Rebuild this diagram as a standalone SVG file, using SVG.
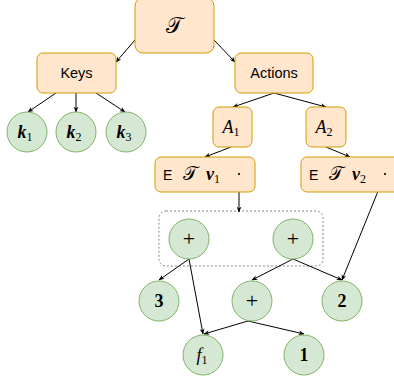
<svg xmlns="http://www.w3.org/2000/svg" width="394" height="380" viewBox="0 0 394 380">
<style>
.box{fill:#ffe6cc;stroke:#d79b00;stroke-width:1}
.circ{fill:#d5e8d4;stroke:#82b366;stroke-width:1}
.sans{font-family:"Liberation Sans",Arial,sans-serif;fill:#000}
.math{font-family:"Liberation Serif","Times New Roman",serif;fill:#000}
.cal{font-family:"DejaVu Serif","Noto Sans","DejaVu Sans",serif;fill:#000}
.edge{fill:none;stroke:#000;stroke-width:1;marker-end:url(#ah)}
</style>
<defs>
<marker id="ah" viewBox="0 0 10 10" refX="9" refY="5" markerWidth="6" markerHeight="6" orient="auto" markerUnits="userSpaceOnUse">
<path d="M0,1 L10,5 L0,9 L3,5 Z" fill="#000"/>
</marker>
</defs>
<rect width="394" height="380" fill="#fff"/>
<g id="group-box">
<rect x="159" y="211" width="164" height="55" rx="7" fill="none" stroke="#888" stroke-width="1" stroke-dasharray="2,2"/>
</g>
<g id="edges">
<line class="edge" x1="135" y1="40" x2="116" y2="62"/>
<line class="edge" x1="214" y1="40" x2="235" y2="62"/>
<line class="edge" x1="56" y1="93" x2="28" y2="112"/>
<line class="edge" x1="76" y1="93" x2="76" y2="112"/>
<line class="edge" x1="96" y1="93" x2="125" y2="112"/>
<line class="edge" x1="274" y1="93" x2="233" y2="107"/>
<line class="edge" x1="274" y1="93" x2="326" y2="107"/>
<line class="edge" x1="231" y1="147" x2="205" y2="157"/>
<line class="edge" x1="326" y1="147" x2="350" y2="157"/>
<line class="edge" x1="239" y1="174" x2="239" y2="212"/>
<line class="edge" x1="385" y1="174" x2="342" y2="280"/>
<line class="edge" x1="189" y1="259" x2="159" y2="280"/>
<line class="edge" x1="189" y1="259" x2="203" y2="334"/>
<line class="edge" x1="293" y1="259" x2="252" y2="280"/>
<line class="edge" x1="293" y1="259" x2="342" y2="280"/>
<line class="edge" x1="248" y1="321" x2="204" y2="334"/>
<line class="edge" x1="248" y1="321" x2="304" y2="334"/>
</g>
<g id="T">
<rect class="box" x="135" y="-2" width="79" height="55" rx="8"/>
<text class="cal" x="174.5" y="33" font-size="22" text-anchor="middle">𝒯</text>
</g>
<g id="Keys">
<rect class="box" x="37" y="53" width="79" height="40" rx="6"/>
<text class="sans" x="76.5" y="78" font-size="14.5" text-anchor="middle">Keys</text>
</g>
<g id="Actions">
<rect class="box" x="235" y="53" width="78" height="40" rx="6"/>
<text class="sans" x="274" y="78" font-size="14.5" text-anchor="middle">Actions</text>
</g>
<g id="k1">
<circle class="circ" cx="27" cy="132" r="20"/>
<text class="math" x="25" y="138" font-size="18" text-anchor="middle"><tspan font-weight="bold" font-style="italic">k</tspan><tspan font-size="12" dy="3">1</tspan></text>
</g>
<g id="k2">
<circle class="circ" cx="76" cy="132" r="20"/>
<text class="math" x="74" y="138" font-size="18" text-anchor="middle"><tspan font-weight="bold" font-style="italic">k</tspan><tspan font-size="12" dy="3">2</tspan></text>
</g>
<g id="k3">
<circle class="circ" cx="126" cy="132" r="20"/>
<text class="math" x="124" y="138" font-size="18" text-anchor="middle"><tspan font-weight="bold" font-style="italic">k</tspan><tspan font-size="12" dy="3">3</tspan></text>
</g>
<g id="A1">
<rect class="box" x="213" y="107" width="39" height="40" rx="6"/>
<text class="math" x="231" y="133" font-size="18" text-anchor="middle"><tspan font-style="italic">A</tspan><tspan font-size="12" dy="3">1</tspan></text>
</g>
<g id="A2">
<rect class="box" x="306" y="107" width="40" height="40" rx="6"/>
<text class="math" x="324" y="133" font-size="18" text-anchor="middle"><tspan font-style="italic">A</tspan><tspan font-size="12" dy="3">2</tspan></text>
</g>
<g id="ETv1">
<rect class="box" x="155" y="157" width="100" height="35" rx="6"/>
<text class="sans" x="163" y="180" font-size="14">E</text>
<text class="cal" x="183" y="180" font-size="19">𝒯</text>
<text class="math" x="206" y="180" font-size="18"><tspan font-weight="bold" font-style="italic">v</tspan><tspan font-size="12" dy="3">1</tspan></text>
<circle cx="239" cy="174" r="1.1" fill="#000"/>
</g>
<g id="ETv2">
<rect class="box" x="301" y="157" width="100" height="35" rx="6"/>
<text class="sans" x="309" y="180" font-size="14">E</text>
<text class="cal" x="329" y="180" font-size="19">𝒯</text>
<text class="math" x="352" y="180" font-size="18"><tspan font-weight="bold" font-style="italic">v</tspan><tspan font-size="12" dy="3">2</tspan></text>
<circle cx="385" cy="174" r="1.1" fill="#000"/>
</g>
<g id="plus1">
<circle class="circ" cx="189" cy="239" r="20"/>
<text class="math" x="189" y="246" font-size="22" text-anchor="middle">+</text>
</g>
<g id="plus2">
<circle class="circ" cx="293" cy="239" r="20"/>
<text class="math" x="293" y="246" font-size="22" text-anchor="middle">+</text>
</g>
<g id="n3">
<circle class="circ" cx="159" cy="301" r="20"/>
<text class="math" x="159" y="307" font-size="18" font-weight="bold" text-anchor="middle">3</text>
</g>
<g id="plus3">
<circle class="circ" cx="252" cy="301" r="20"/>
<text class="math" x="252" y="308" font-size="22" text-anchor="middle">+</text>
</g>
<g id="n2">
<circle class="circ" cx="342" cy="301" r="20"/>
<text class="math" x="342" y="307" font-size="18" font-weight="bold" text-anchor="middle">2</text>
</g>
<g id="f1">
<circle class="circ" cx="203" cy="355" r="20"/>
<text class="math" x="202" y="361" font-size="18" text-anchor="middle"><tspan font-style="italic">f</tspan><tspan font-size="12" dy="3">1</tspan></text>
</g>
<g id="n1">
<circle class="circ" cx="304" cy="355" r="20"/>
<text class="math" x="304" y="361" font-size="18" font-weight="bold" text-anchor="middle">1</text>
</g>
</svg>
